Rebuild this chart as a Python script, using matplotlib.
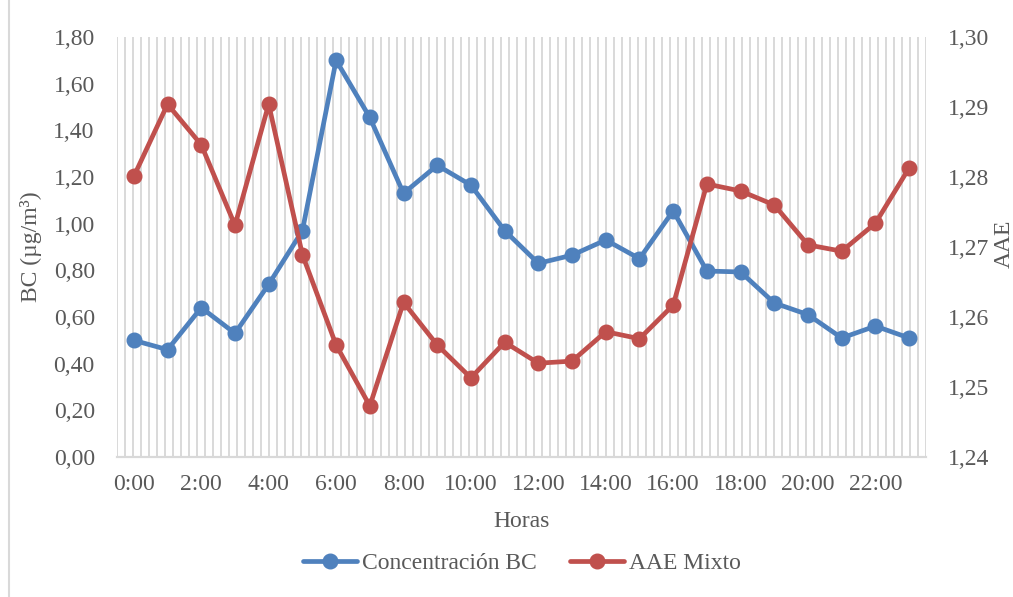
import matplotlib.pyplot as plt
import numpy as np
from matplotlib.lines import Line2D
from matplotlib.ticker import FuncFormatter

hours = [f"{h}:00" for h in range(24)]

bc = [0.50, 0.46, 0.64, 0.53, 0.74, 0.97, 1.70, 1.455, 1.13, 1.25, 1.165, 0.97,
      0.83, 0.865, 0.93, 0.85, 1.055, 0.797, 0.793, 0.66, 0.61, 0.51, 0.561, 0.51]

aae = [1.2801, 1.2904, 1.2846, 1.2731, 1.2904, 1.2689, 1.2560, 1.2473, 1.2621,
       1.2560, 1.2513, 1.2564, 1.2534, 1.2537, 1.2579, 1.2569, 1.2617, 1.2790,
       1.2780, 1.2760, 1.2703, 1.2694, 1.2734, 1.2813]

BLUE = "#4F81BD"
RED = "#C0504D"
GRID = "#D9D9D9"
TEXT = "#595959"
FS = 17

plt.rcParams["font.family"] = ["Liberation Serif", "DejaVu Serif"]


def comma(v, _pos):
    return f"{v:.2f}".replace(".", ",")


fig = plt.figure(figsize=(10.13, 5.97), dpi=100)
ax = fig.add_axes([117 / 1013, 140 / 597, 809 / 1013, 420 / 597])
ax2 = ax.twinx()

x = np.arange(len(hours))

# dense vertical grid, like the Excel original
for gx in np.linspace(-0.5, 23.5, 102):
    ax.axvline(gx, color=GRID, linewidth=1.4, zorder=0)

l1, = ax.plot(x, bc, color=BLUE, linewidth=3.4, marker="o", markersize=10.5,
              label="Concentración BC", zorder=3, solid_capstyle="round")
l2, = ax2.plot(x, aae, color=RED, linewidth=3.4, marker="o", markersize=10.5,
               label="AAE Mixto", zorder=3, solid_capstyle="round")

ax.set_xlim(-0.5, 23.5)
ax.set_ylim(0, 1.8)
ax.set_yticks(np.arange(0, 1.81, 0.2))
ax2.set_ylim(1.24, 1.30)
ax2.set_yticks(np.arange(1.24, 1.3001, 0.01))
ax.yaxis.set_major_formatter(FuncFormatter(comma))
ax2.yaxis.set_major_formatter(FuncFormatter(comma))

ax.set_xticks(x[::2])
ax.set_xticklabels(hours[::2])

for a in (ax, ax2):
    for side in ("top", "left", "right"):
        a.spines[side].set_visible(False)
    a.spines["bottom"].set_color(GRID)
    a.spines["bottom"].set_linewidth(1.5)
    a.tick_params(length=0, labelsize=FS, colors=TEXT)

ax.tick_params(axis="y", pad=16)
ax2.tick_params(axis="y", pad=16)
ax.tick_params(axis="x", pad=12)

ax.set_xlabel("Horas", fontsize=FS, color=TEXT, labelpad=12)
ax.set_ylabel("BC (µg/m³)", fontsize=FS, color=TEXT)
ax.yaxis.set_label_coords(-0.093, 0.5)

# right-hand label hugs the canvas edge as in the original
fig.text(994 / 1013, 1 - 244 / 597, "AAE", rotation=90, fontsize=FS, color=TEXT,
         ha="left", va="center")

fig.legend(handles=[l1, l2], loc="center", bbox_to_anchor=(0.515, 1 - 563 / 597),
           ncol=2, frameon=False, fontsize=FS, handlelength=2.3,
           columnspacing=1.4, handletextpad=0.2, labelcolor=TEXT)

fig.add_artist(Line2D([8.5 / 1013, 8.5 / 1013], [0, 1], color=GRID, linewidth=1.5))

fig.savefig("out.png", dpi=100)
